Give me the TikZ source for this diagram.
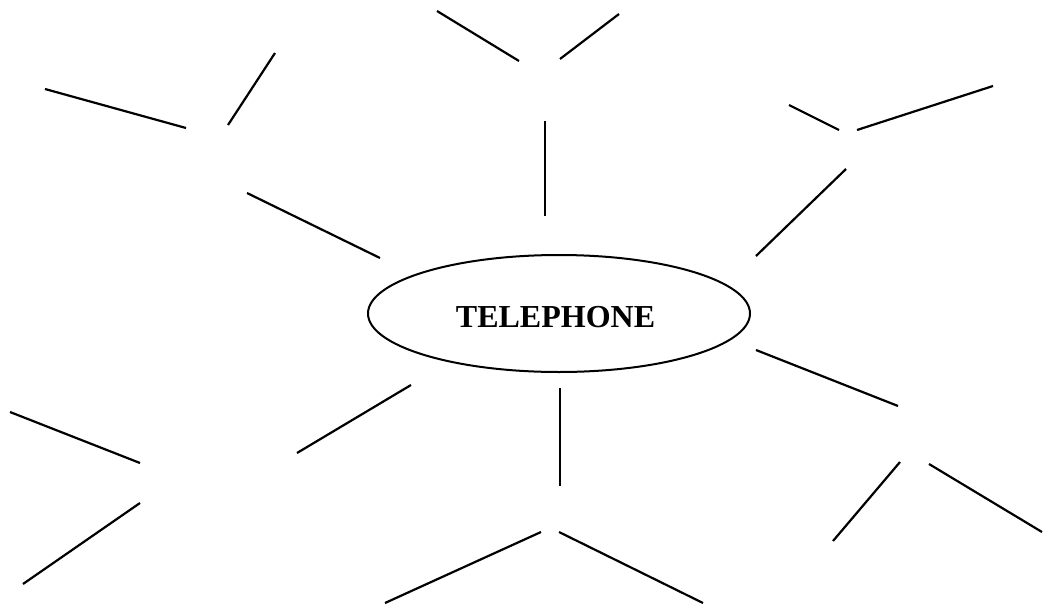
\documentclass[tikz,border=0pt]{standalone}
\usepackage{fontspec}
\setmainfont{Liberation Serif}
\usetikzlibrary{shapes.geometric}

\begin{document}
\begin{tikzpicture}[x=1pt,y=-1pt,
  spoke/.style={line width=2.2pt},
  hub/.style={draw,ellipse,line width=2pt,minimum width=382pt,minimum height=117pt,inner sep=0pt},
  word/.style={font=\bfseries\fontsize{32}{38}\selectfont}]
  \useasboundingbox (0,0) rectangle (1044,605);

  % centre
  \node[hub] (phone) at (559,313.5) {};
  \node[word] (title) at (555.5,317) {TELEPHONE};

  % branches round the centre, each a loose line
  \foreach \ax/\ay/\bx/\by in {
      437/11/519/61, 560/59/619/14,
      45/89/186/128, 275/53/228/125,
      545/121/545/216,
      789/105/839/130, 857/130/993/86,
      247/193/380/258, 846/169/756/256,
      756/350/898/406, 411/385/297/453,
      560/388/560/486,
      10/412/140/463, 140/503/23/584,
      900/462/833/541, 929/464/1042/532,
      541/532/385/603, 559/532/703/603}
    {\draw[spoke] (\ax,\ay) -- (\bx,\by);}

\end{tikzpicture}
\end{document}
